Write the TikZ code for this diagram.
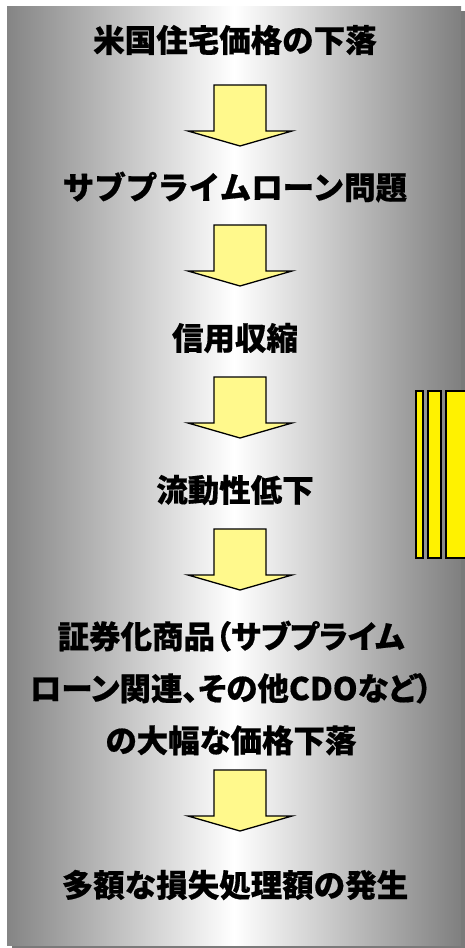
\documentclass[tikz,border=0pt]{standalone}
\usepackage{fontspec}
\usetikzlibrary{calc}
\setmainfont{Noto Sans CJK JP}[BoldFeatures={FakeBold=0.5}]
\newfontfamily\palfont{Noto Sans CJK JP}[RawFeature=+palt,BoldFeatures={FakeBold=0.5}]
\begin{document}
\begin{tikzpicture}[x=1pt,y=-1pt,
  panel/.style={left color=black!48,right color=black!50,middle color=white,draw=none},
  shadowbox/.style={fill=black!52,draw=none},
  arrowblk/.style={fill=yellow!45,draw=black,line width=1.3pt,line join=miter},
  bar/.style={fill=yellow,draw=black,line width=1.3pt},
  lbl/.style={font=\fontsize{31.5}{52}\selectfont\bfseries,align=center,inner sep=0pt}]
\useasboundingbox (0,0) rectangle (464,948);
\fill[white] (0,0) rectangle (464,948);
\path[shadowbox] (12,11) rectangle (466,950);
\path[panel] (7,6) rectangle (461,945);
\newcommand\blkarrow[3]{%
  \coordinate (#1) at (#2,#3);
  \draw[arrowblk] ($(#1)+(-26,0)$) -- ($(#1)+(26,0)$) -- ($(#1)+(26,46)$) -- ($(#1)+(52,46)$) -- ($(#1)+(0,61)$) -- ($(#1)+(-52,46)$) -- ($(#1)+(-26,46)$) -- cycle;}
\node[lbl] (t1) at (235,40) {米国住宅価格の下落};
\node[lbl] (t2) at (235,187) {サブプライムローン問題};
\node[lbl] (t3) at (235,338) {信用収縮};
\node[lbl] (t4) at (235,490) {流動性低下};
\node[lbl,font=\fontsize{31.5}{52}\selectfont\bfseries\palfont] (t5) at (231,688) {証券化商品（サブプライム\\ローン関連、その他CDOなど）\\の大幅な価格下落};
\node[lbl] (t6) at (235,885) {多額な損失処理額の発生};
\blkarrow{a1}{240}{85}
\blkarrow{a2}{240}{225}
\blkarrow{a3}{240}{377}
\blkarrow{a4}{240}{529}
\blkarrow{a5}{240}{770}
\draw[bar] (416,391) rectangle (423,558);
\draw[bar] (428,391) rectangle (441,558);
\draw[bar] (446,391) rectangle (472,558);
\end{tikzpicture}
\end{document}
